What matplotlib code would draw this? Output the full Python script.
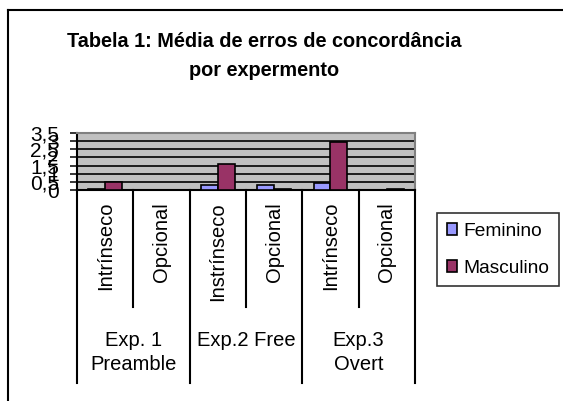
import numpy as np
import matplotlib
matplotlib.use('Agg')
import matplotlib.pyplot as plt
from matplotlib.transforms import blended_transform_factory
from matplotlib.lines import Line2D

plt.rcParams['font.family'] = ['Liberation Sans', 'DejaVu Sans']

# data
categories = ['Intrínseco', 'Opcional', 'Instrínseco', 'Opcional', 'Intrínseco', 'Opcional']
groups = ['Exp. 1\nPreamble', 'Exp.2 Free', 'Exp.3\nOvert']
feminino = [0.05, 0.0, 0.3, 0.3, 0.45, 0.0]
masculino = [0.5, 0.0, 1.6, 0.07, 2.92, 0.07]
y_ticks = [0, 0.5, 1, 1.5, 2, 2.5, 3, 3.5]
y_labels = ['0', '0,5', '1', '1,5', '2', '2,5', '3', '3,5']
title = 'Tabela 1: Média de erros de concordância\npor expermento'

W, H = 563, 401
fig = plt.figure(figsize=(W / 100, H / 100), dpi=100)
ax = fig.add_axes([77 / W, 1 - 190 / H, (415 - 77) / W, (190 - 133) / H])
ax.set_facecolor('#C0C0C0')

x = np.arange(len(categories))
bw = 0.3
ax.bar(x - bw / 2, feminino, bw, color='#9999FF', edgecolor='black', linewidth=1.2,
       label='Feminino', zorder=3)
ax.bar(x + bw / 2, masculino, bw, color='#993366', edgecolor='black', linewidth=1.2,
       label='Masculino', zorder=3)

ax.set_xlim(-0.5, len(categories) - 0.5)
ax.set_ylim(0, 3.5)
ax.set_yticks(y_ticks)
ax.set_yticklabels(y_labels, fontsize=15)
ax.tick_params(axis='y', length=5, width=1.1, pad=8)
ax.set_xticks([])
ax.yaxis.grid(True, color='black', linewidth=1.2)
ax.set_axisbelow(True)
for s in ['left', 'bottom']:
    ax.spines[s].set_color('black')
    ax.spines[s].set_linewidth(1.5)
for s in ['top', 'right']:
    ax.spines[s].set_color('#808080')
    ax.spines[s].set_linewidth(1.5)

# category labels and separators below the axis
tr = blended_transform_factory(ax.transData, fig.transFigure)
y0 = 1 - 190 / H
for i, lab in enumerate(categories):
    ax.text(i, 1 - 202 / H, lab, transform=tr, rotation=90, ha='center', va='top',
            fontsize=14.5)
for b in np.arange(-0.5, len(categories), 1.0):
    idx = int(b + 0.5)
    end = 1 - 383 / H if idx % 2 == 0 else 1 - 307 / H
    fig.add_artist(Line2D([b, b], [y0, end], transform=tr, color='black', linewidth=1.5,
                          clip_on=False))
for g, lab in enumerate(groups):
    ax.text(2 * g + 0.5, 1 - 331 / H, lab, transform=tr, ha='center', va='top',
            fontsize=14.5, linespacing=1.3)

fig.text(264 / W, 1 - 32 / H, title, ha='center', va='top', fontsize=14.3,
         fontweight='bold', linespacing=1.7)

leg = ax.legend(loc='upper left', bbox_to_anchor=(437 / W, 1 - 213 / H),
                bbox_transform=fig.transFigure, fontsize=13.8, frameon=True,
                fancybox=False, edgecolor='black', handlelength=0.55, handleheight=0.55,
                handletextpad=0.35, borderpad=0.5, labelspacing=1.05, borderaxespad=0)
leg.get_frame().set_linewidth(1.2)

# chart frame (top and left edges only visible)
fig.add_artist(Line2D([8 / W, 1], [1 - 10 / H, 1 - 10 / H], transform=fig.transFigure,
                      color='black', linewidth=1.5))
fig.add_artist(Line2D([8 / W, 8 / W], [1 - 10 / H, 0], transform=fig.transFigure,
                      color='black', linewidth=1.5))

fig.savefig('out.png', dpi=100)
